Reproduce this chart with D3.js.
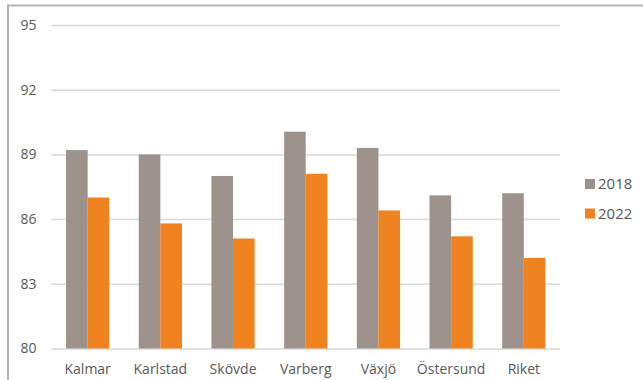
<!DOCTYPE html>
<html><head><meta charset="utf-8">
<script src="https://cdn.jsdelivr.net/npm/d3@7"></script>
<style>body{margin:0;background:#fff}svg{display:block}</style>
</head><body><svg id="c" width="643" height="380"></svg>
<script>
const categories = ["Kalmar","Karlstad","Skövde","Varberg","Växjö","Östersund","Riket"];
const seriesNames = ["2018","2022"];
const values2018 = [89.2, 89.0, 88.0, 90.05, 89.3, 87.1, 87.2];
const values2022 = [87.0, 85.8, 85.1, 88.1, 86.4, 85.2, 84.2];
const yTicks = [80, 83, 86, 89, 92, 95];
const colors = ["#9d938c", "#f0821f"];

const svg = d3.select("#c");
const font = "'Open Sans', sans-serif";
// frame
svg.append("line").attr("x1",8).attr("x2",643).attr("y1",5.5).attr("y2",5.5).attr("stroke","#bab2ac").attr("stroke-width",2);
svg.append("line").attr("x1",8).attr("x2",8).attr("y1",4.5).attr("y2",380).attr("stroke","#bab2ac").attr("stroke-width",2);

const x = d3.scaleBand().domain(categories).range([51.5, 560]).paddingInner(0.405).paddingOuter(0.2);
const x1 = d3.scaleBand().domain(seriesNames).range([0, x.bandwidth()]);
const y = d3.scaleLinear().domain([80, 95]).range([348.5, 25]);

const yAxis = d3.axisLeft(y).tickValues(yTicks).tickSize(-(560-51.5)).tickPadding(15);
const gy = svg.append("g").attr("transform","translate(51.5,0)").call(yAxis);
gy.select(".domain").remove();
gy.selectAll(".tick line").attr("stroke","#d9d9d9").attr("stroke-width",1.5);
gy.selectAll(".tick text").attr("fill","#595959").style("font-family",font).style("font-size","14px");

const data = categories.map((c,i)=>({c, v:[values2018[i], values2022[i]]}));
const g = svg.append("g");
g.selectAll("g.grp").data(data).join("g").attr("class","grp")
  .attr("transform", d=>`translate(${x(d.c)},0)`)
  .selectAll("rect").data(d=>d.v.map((v,j)=>({v, s:seriesNames[j], j})))
  .join("rect")
  .attr("x", d=>x1(d.s)).attr("width", x1.bandwidth())
  .attr("y", d=>y(d.v)).attr("height", d=>y(80)-y(d.v))
  .attr("fill", d=>colors[d.j]);

const xAxis = d3.axisBottom(x).tickSize(0).tickPadding(16);
const gx = svg.append("g").attr("transform","translate(0,348.5)").call(xAxis);
gx.select(".domain").remove();
gx.selectAll(".tick text").attr("fill","#595959").style("font-family",font).style("font-size","14px");

const leg = svg.append("g").selectAll("g").data(seriesNames).join("g")
  .attr("transform",(d,i)=>`translate(585,${179 + i*29.5})`);
leg.append("rect").attr("width",10).attr("height",10).attr("fill",(d,i)=>colors[i]);
leg.append("text").attr("x",13).attr("y",10).text(d=>d)
  .attr("fill","#595959").style("font-family",font).style("font-size","15px");
</script></body></html>
